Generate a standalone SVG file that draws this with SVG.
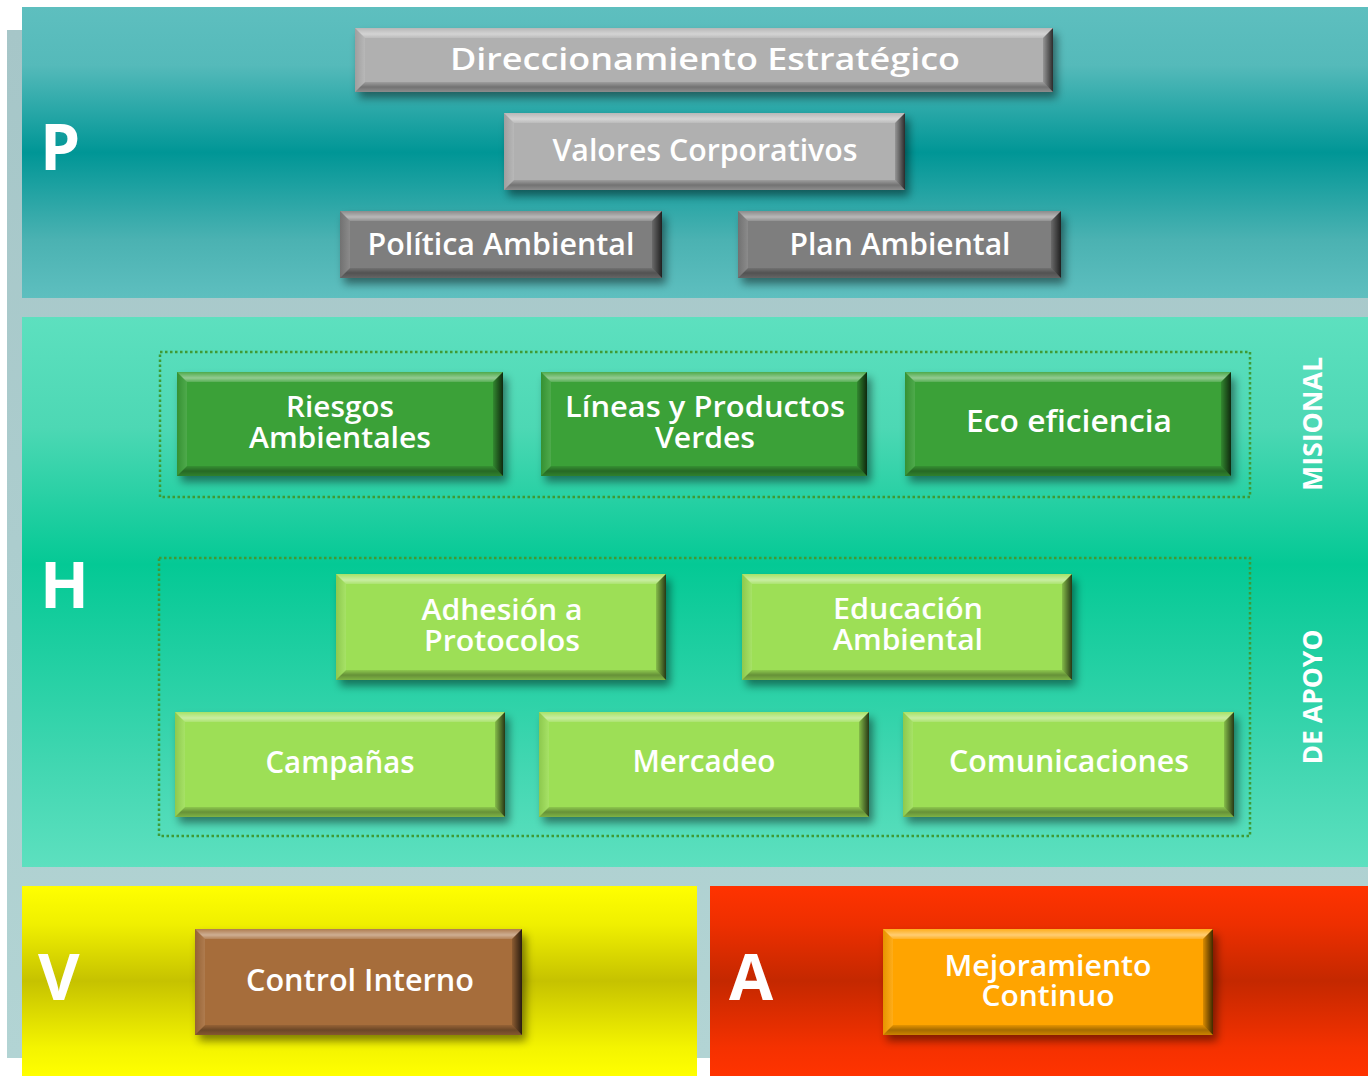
<svg xmlns="http://www.w3.org/2000/svg" width="1368" height="1076" viewBox="0 0 1368 1076">
<defs>
<linearGradient id="gBack" x1="0" y1="0" x2="0" y2="1"><stop offset="0" stop-color="#a6c6c8"/><stop offset="1" stop-color="#b2d4d4"/></linearGradient>
<linearGradient id="gP" x1="0" y1="0" x2="0" y2="1"><stop offset="0" stop-color="#5ebfbf"/><stop offset="0.2" stop-color="#55baba"/><stop offset="0.5" stop-color="#009696"/><stop offset="0.8" stop-color="#4bb2b2"/><stop offset="1" stop-color="#5ebfbf"/></linearGradient>
<linearGradient id="gH" x1="0" y1="0" x2="0" y2="1"><stop offset="0" stop-color="#5de0bf"/><stop offset="0.2" stop-color="#4dd8b4"/><stop offset="0.45" stop-color="#04c995"/><stop offset="0.8" stop-color="#3fd6b0"/><stop offset="1" stop-color="#5de0bf"/></linearGradient>
<linearGradient id="gV" x1="0" y1="0" x2="0" y2="1"><stop offset="0" stop-color="#ffff00"/><stop offset="0.2" stop-color="#f0f000"/><stop offset="0.5" stop-color="#c6c200"/><stop offset="0.85" stop-color="#f4f400"/><stop offset="1" stop-color="#ffff00"/></linearGradient>
<linearGradient id="gA" x1="0" y1="0" x2="0" y2="1"><stop offset="0" stop-color="#ff3300"/><stop offset="0.2" stop-color="#ee2f00"/><stop offset="0.5" stop-color="#c42800"/><stop offset="0.85" stop-color="#f53100"/><stop offset="1" stop-color="#ff3300"/></linearGradient>
<linearGradient id="gTop" x1="0" y1="0" x2="0" y2="1"><stop offset="0" stop-color="#fff" stop-opacity="0.1"/><stop offset="0.6" stop-color="#fff" stop-opacity="0.45"/><stop offset="1" stop-color="#fff" stop-opacity="0.15"/></linearGradient>
<linearGradient id="gBot" x1="0" y1="0" x2="0" y2="1"><stop offset="0" stop-color="#000" stop-opacity="0.1"/><stop offset="0.5" stop-color="#000" stop-opacity="0.35"/><stop offset="1" stop-color="#000" stop-opacity="0.2"/></linearGradient>
<linearGradient id="gRight" x1="0" y1="0" x2="1" y2="0"><stop offset="0" stop-color="#000" stop-opacity="0.15"/><stop offset="1" stop-color="#000" stop-opacity="0.75"/></linearGradient>
<linearGradient id="gLeft" x1="0" y1="0" x2="1" y2="0"><stop offset="0" stop-color="#000" stop-opacity="0.1"/><stop offset="1" stop-color="#fff" stop-opacity="0.1"/></linearGradient>
<filter id="sh" x="-10%" y="-20%" width="125%" height="150%"><feDropShadow dx="4" dy="6" stdDeviation="4" flood-color="#000" flood-opacity="0.45"/></filter>
</defs>
<style>
.bt{fill:url(#gTop)}
.bb{fill:url(#gBot)}
.br{fill:url(#gRight)}
.bl{fill:url(#gLeft)}
.base{filter:url(#sh)}
.gray{fill:#b0b0b0}
.dgray{fill:#7e7e7e}
.green{fill:#3aa139}
.lgreen{fill:#9ddf57}
.brown{fill:#a66d3a}
.orange{fill:#ffa406}
text{font-family:"Open Sans","DejaVu Sans",sans-serif;font-weight:600;fill:#fff;text-anchor:middle}
.big{font-size:64px;font-weight:700;text-anchor:start}
.lbl{font-size:30px}
.two{font-size:28px}
.side{font-size:26px;font-weight:700}
.dot{fill:none;stroke:#3f9a35;stroke-width:2.5;stroke-dasharray:2.5 2.5}
</style>
<rect x="7" y="30" width="1361" height="1028" fill="url(#gBack)"/>
<rect x="22" y="7" width="1346" height="291" fill="url(#gP)"/>
<rect x="22" y="317" width="1346" height="550" fill="url(#gH)"/>
<rect x="22" y="886" width="675" height="190" fill="url(#gV)"/>
<rect x="710" y="886" width="658" height="190" fill="url(#gA)"/>
<text class="big" x="40" y="170">P</text>
<text class="big" x="40" y="608">H</text>
<text class="big" x="38" y="1000">V</text>
<text class="big" x="729" y="1000">A</text>
<rect class="dot" x="160" y="352" width="1090" height="145"/>
<rect class="dot" x="159" y="558" width="1091" height="278"/>
<text class="side" transform="translate(1322,424) rotate(-90)" textLength="134" lengthAdjust="spacingAndGlyphs">MISIONAL</text>
<text class="side" transform="translate(1322,697) rotate(-90)" textLength="135" lengthAdjust="spacingAndGlyphs">DE APOYO</text>
<g id="connectors"></g>
<g id="n-direccionamiento">
<rect class="base gray" x="355" y="28" width="698" height="64"/>
<polygon class="bt" points="355,28 1053,28 1043,38 365,38"/>
<polygon class="bb" points="355,92 1053,92 1043,82 365,82"/>
<polygon class="bl" points="355,28 365,38 365,82 355,92"/>
<polygon class="br" points="1053,28 1043,38 1043,82 1053,92"/>
<text class="lbl" x="705" y="70" font-size="36" textLength="510" lengthAdjust="spacingAndGlyphs">Direccionamiento Estratégico</text>
</g>
<g id="n-valores">
<rect class="base gray" x="504" y="113" width="401" height="77"/>
<polygon class="bt" points="504,113 905,113 895,123 514,123"/>
<polygon class="bb" points="504,190 905,190 895,180 514,180"/>
<polygon class="bl" points="504,113 514,123 514,180 504,190"/>
<polygon class="br" points="905,113 895,123 895,180 905,190"/>
<text class="lbl" x="705" y="161" textLength="305" lengthAdjust="spacingAndGlyphs">Valores Corporativos</text>
</g>
<g id="n-politica">
<rect class="base dgray" x="340" y="211" width="322" height="67"/>
<polygon class="bt" points="340,211 662,211 652,221 350,221"/>
<polygon class="bb" points="340,278 662,278 652,268 350,268"/>
<polygon class="bl" points="340,211 350,221 350,268 340,278"/>
<polygon class="br" points="662,211 652,221 652,268 662,278"/>
<text class="lbl" x="501" y="255" textLength="267" lengthAdjust="spacingAndGlyphs">Política Ambiental</text>
</g>
<g id="n-plan">
<rect class="base dgray" x="738" y="211" width="323" height="67"/>
<polygon class="bt" points="738,211 1061,211 1051,221 748,221"/>
<polygon class="bb" points="738,278 1061,278 1051,268 748,268"/>
<polygon class="bl" points="738,211 748,221 748,268 738,278"/>
<polygon class="br" points="1061,211 1051,221 1051,268 1061,278"/>
<text class="lbl" x="900" y="255" textLength="221" lengthAdjust="spacingAndGlyphs">Plan Ambiental</text>
</g>
<g id="n-riesgos">
<rect class="base green" x="177" y="372" width="326" height="104"/>
<polygon class="bt" points="177,372 503,372 493,382 187,382"/>
<polygon class="bb" points="177,476 503,476 493,466 187,466"/>
<polygon class="bl" points="177,372 187,382 187,466 177,476"/>
<polygon class="br" points="503,372 493,382 493,466 503,476"/>
<text class="two" x="340" y="417" textLength="108" lengthAdjust="spacingAndGlyphs">Riesgos</text>
<text class="two" x="340" y="448" textLength="182" lengthAdjust="spacingAndGlyphs">Ambientales</text>
</g>
<g id="n-lineas">
<rect class="base green" x="541" y="372" width="326" height="104"/>
<polygon class="bt" points="541,372 867,372 857,382 551,382"/>
<polygon class="bb" points="541,476 867,476 857,466 551,466"/>
<polygon class="bl" points="541,372 551,382 551,466 541,476"/>
<polygon class="br" points="867,372 857,382 857,466 867,476"/>
<text class="two" x="705" y="417" textLength="280" lengthAdjust="spacingAndGlyphs">Líneas y Productos</text>
<text class="two" x="705" y="448" textLength="100" lengthAdjust="spacingAndGlyphs">Verdes</text>
</g>
<g id="n-eco">
<rect class="base green" x="905" y="372" width="326" height="104"/>
<polygon class="bt" points="905,372 1231,372 1221,382 915,382"/>
<polygon class="bb" points="905,476 1231,476 1221,466 915,466"/>
<polygon class="bl" points="905,372 915,382 915,466 905,476"/>
<polygon class="br" points="1231,372 1221,382 1221,466 1231,476"/>
<text class="lbl" x="1069" y="432" textLength="206" lengthAdjust="spacingAndGlyphs">Eco eficiencia</text>
</g>
<g id="n-adhesion">
<rect class="base lgreen" x="336" y="574" width="330" height="106"/>
<polygon class="bt" points="336,574 666,574 656,584 346,584"/>
<polygon class="bb" points="336,680 666,680 656,670 346,670"/>
<polygon class="bl" points="336,574 346,584 346,670 336,680"/>
<polygon class="br" points="666,574 656,584 656,670 666,680"/>
<text class="two" x="502" y="620" textLength="161" lengthAdjust="spacingAndGlyphs">Adhesión a</text>
<text class="two" x="502" y="651" textLength="156" lengthAdjust="spacingAndGlyphs">Protocolos</text>
</g>
<g id="n-educacion">
<rect class="base lgreen" x="742" y="574" width="330" height="106"/>
<polygon class="bt" points="742,574 1072,574 1062,584 752,584"/>
<polygon class="bb" points="742,680 1072,680 1062,670 752,670"/>
<polygon class="bl" points="742,574 752,584 752,670 742,680"/>
<polygon class="br" points="1072,574 1062,584 1062,670 1072,680"/>
<text class="two" x="908" y="619" textLength="150" lengthAdjust="spacingAndGlyphs">Educación</text>
<text class="two" x="908" y="650" textLength="150" lengthAdjust="spacingAndGlyphs">Ambiental</text>
</g>
<g id="n-campanas">
<rect class="base lgreen" x="175" y="712" width="330" height="105"/>
<polygon class="bt" points="175,712 505,712 495,722 185,722"/>
<polygon class="bb" points="175,817 505,817 495,807 185,807"/>
<polygon class="bl" points="175,712 185,722 185,807 175,817"/>
<polygon class="br" points="505,712 495,722 495,807 505,817"/>
<text class="lbl" x="340" y="773" textLength="149" lengthAdjust="spacingAndGlyphs">Campañas</text>
</g>
<g id="n-mercadeo">
<rect class="base lgreen" x="539" y="712" width="330" height="105"/>
<polygon class="bt" points="539,712 869,712 859,722 549,722"/>
<polygon class="bb" points="539,817 869,817 859,807 549,807"/>
<polygon class="bl" points="539,712 549,722 549,807 539,817"/>
<polygon class="br" points="869,712 859,722 859,807 869,817"/>
<text class="lbl" x="704" y="772" textLength="143" lengthAdjust="spacingAndGlyphs">Mercadeo</text>
</g>
<g id="n-comunicaciones">
<rect class="base lgreen" x="903" y="712" width="331" height="105"/>
<polygon class="bt" points="903,712 1234,712 1224,722 913,722"/>
<polygon class="bb" points="903,817 1234,817 1224,807 913,807"/>
<polygon class="bl" points="903,712 913,722 913,807 903,817"/>
<polygon class="br" points="1234,712 1224,722 1224,807 1234,817"/>
<text class="lbl" x="1069" y="772" textLength="240" lengthAdjust="spacingAndGlyphs">Comunicaciones</text>
</g>
<g id="n-control">
<rect class="base brown" x="195" y="929" width="327" height="106"/>
<polygon class="bt" points="195,929 522,929 512,939 205,939"/>
<polygon class="bb" points="195,1035 522,1035 512,1025 205,1025"/>
<polygon class="bl" points="195,929 205,939 205,1025 195,1035"/>
<polygon class="br" points="522,929 512,939 512,1025 522,1035"/>
<text class="lbl" x="360" y="991" textLength="228" lengthAdjust="spacingAndGlyphs">Control Interno</text>
</g>
<g id="n-mejoramiento">
<rect class="base orange" x="883" y="929" width="330" height="106"/>
<polygon class="bt" points="883,929 1213,929 1203,939 893,939"/>
<polygon class="bb" points="883,1035 1213,1035 1203,1025 893,1025"/>
<polygon class="bl" points="883,929 893,939 893,1025 883,1035"/>
<polygon class="br" points="1213,929 1203,939 1203,1025 1213,1035"/>
<text class="two" x="1048" y="976" textLength="207" lengthAdjust="spacingAndGlyphs">Mejoramiento</text>
<text class="two" x="1048" y="1006" textLength="133" lengthAdjust="spacingAndGlyphs">Continuo</text>
</g>
</svg>
